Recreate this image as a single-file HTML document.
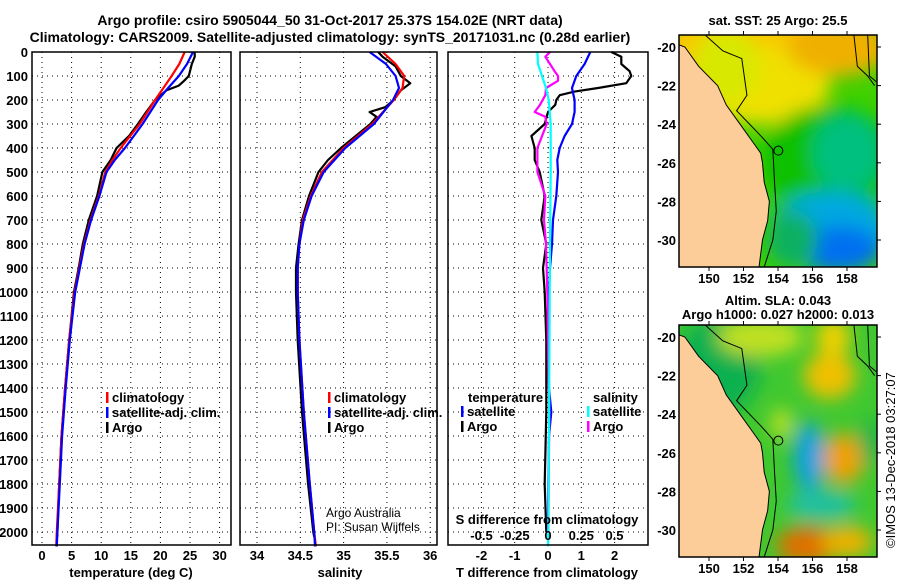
<!DOCTYPE html>
<html><head><meta charset="utf-8"><style>
body{margin:0;background:#fff;}
svg{display:block;font-family:"Liberation Sans",sans-serif;}
.b{font-weight:bold;font-size:13px;}
.t{font-weight:bold;font-size:14px;}
.g{stroke:#000;stroke-width:1;stroke-dasharray:1,4;}
</style></head><body>
<svg id="c" width="900" height="580" viewBox="0 0 900 580">
<text class="t" x="330" y="25" text-anchor="middle">Argo profile: csiro 5905044_50 31-Oct-2017 25.37S 154.02E (NRT data)</text>
<text class="t" x="330" y="42" text-anchor="middle">Climatology: CARS2009. Satellite-adjusted climatology: synTS_20171031.nc (0.28d earlier)</text>
<g id="plots"></g>
<g id="maps"></g>
</svg>
<script>
// depth grid
const depthTicks=[0,100,200,300,400,500,600,700,800,900,1000,1100,1200,1300,1400,1500,1600,1700,1800,1900,2000];
// temperature panel
const tTicks=[0,5,10,15,20,25,30];
const argoTdepth=[0,20,50,80,100,120,140,160,200,250,300,350,400,450,500,600,700,800,900,1000,1200,1400,1600,1800,2000,2020];
const argoT=[25.8,25.8,25.3,25,24.8,24,23.1,21,19.1,17.6,16.2,14.7,12.6,11.6,10.2,9.3,7.9,6.9,6.2,5.4,4.6,3.9,3.3,2.9,2.6,2.6];
const climTdepth=[0,50,100,150,200,250,300,350,400,450,500,600,700,800,900,1000,1200,1400,1600,1800,2000,2060];
const climT=[24.1,23.2,21.9,20.5,19.1,17.8,16.5,14.9,13.3,11.9,10.7,9.6,8.2,7.1,6.3,5.5,4.6,3.9,3.3,2.9,2.5,2.4];
const satT=[25.5,24.5,23.1,21.3,19.6,18.3,17,15.5,14,12.3,10.9,9.7,8.3,7.2,6.4,5.6,4.7,4,3.4,3,2.6,2.5];
// salinity panel
const sTicks=[34,34.5,35,35.5,36];
const argoSdepth=[0,20,60,100,130,160,200,230,250,270,300,350,400,450,500,600,700,800,900,1000,1200,1500,1800,2000,2020];
const argoS=[35.4,35.45,35.6,35.66,35.77,35.66,35.58,35.48,35.3,35.38,35.31,35.14,34.97,34.82,34.71,34.6,34.52,34.48,34.45,34.45,34.47,34.52,34.59,34.65,34.66];
const climSdepth=[0,50,100,150,200,300,400,500,600,700,800,900,1000,1200,1500,1800,2000,2060];
const climS=[35.45,35.6,35.7,35.68,35.58,35.33,35.0,34.75,34.62,34.53,34.49,34.47,34.47,34.49,34.54,34.61,34.66,34.68];
const satS=[35.3,35.49,35.6,35.64,35.57,35.35,35.02,34.77,34.63,34.54,34.49,34.47,34.47,34.49,34.54,34.61,34.66,34.67];
// difference panel
const dTticks=[-2,-1,0,1,2];
const dSticks=[-0.5,-0.25,0,0.25,0.5];
const dSticksLabel=["-0.5","-0.25","0","0.25","0.5"];
const argoDTdepth=[0,20,50,80,100,120,130,150,165,180,200,220,250,300,350,400,450,500,600,700,800,900,1000,1200,1500,1800,2000];
const argoDT=[1.9,2.2,2.2,2.45,2.5,2.4,2.35,1.5,0.8,0.35,0.25,0.22,0,-0.1,-0.5,-0.4,-0.4,-0.25,-0.1,-0.2,-0.05,-0.15,-0.1,-0.05,-0.05,-0.1,-0.05];
const satDTdepth=[0,50,100,150,200,250,300,350,400,450,500,600,700,800,900,1000,1200,1400,1500,1600,1800,2000];
const satDT=[1.27,1.1,0.85,0.72,0.8,0.8,0.72,0.5,0.35,0.28,0.3,0.25,0.15,0.12,0.06,0.03,0.02,0.03,0.1,0.03,0.01,0.0];
const argoDSdepth=[0,20,50,80,100,120,150,180,220,250,270,300,400,500,600,700,800,1000,1200,1500,1800,2000];
const argoDS=[0.015,-0.02,0.015,0.05,0.075,0.075,-0.015,-0.02,-0.06,-0.1,-0.02,-0.01,-0.08,-0.08,-0.02,-0.03,-0.015,-0.005,0,0.01,0.005,0.003];
const satDSdepth=[0,50,100,150,200,300,500,800,1500,2000,2060];
const satDS=[-0.08,-0.075,-0.045,-0.015,0.005,0.02,0.02,0.015,0.008,0.002,0];

const NS="http://www.w3.org/2000/svg";
function mk(tag,attrs,parent,txt){const e=document.createElementNS(NS,tag);for(const k in attrs)e.setAttribute(k,attrs[k]);if(txt!==undefined)e.textContent=txt;parent.appendChild(e);return e;}
const P=document.getElementById('plots');
const top0=52,bot=545;
const yD=d=>top0+d*0.24;

function panel(name,x0,x1,xs,ticks,labels){
  const g=mk('g',{},P);
  
  
  ticks.forEach((t,i)=>{const l=mk('line',{x1:xs(t),x2:xs(t),y1:top0,y2:bot,class:'g'},g);
    });
  depthTicks.forEach(d=>{if(d===0)return;const l=mk('line',{x1:x0,x2:x1,y1:yD(d),y2:yD(d),class:'g'},g);
    });
  if(labels){ticks.forEach((t,i)=>{const tx=mk('text',{x:xs(t),y:560,'text-anchor':'middle',class:'b'},g,labels[i]);
    });}
  return g;
}
function frame(g,x0,x1){const r=mk('rect',{x:x0,y:top0,width:x1-x0,height:bot-top0,fill:'none',stroke:'#000','stroke-width':1.5},g);
  }
function line(g,xs,vals,depths,col,name){
  const pts=vals.map((v,i)=>xs(v).toFixed(1)+','+yD(depths[i]).toFixed(1)).join(' ');
  const l=mk('polyline',{points:pts,fill:'none',stroke:col,'stroke-width':2.2,'stroke-linejoin':'round'},g);
  
}
function legend(g,x,y,items){items.forEach((it,i)=>{
  const m=mk('rect',{x:x,y:y+i*15-10,width:2.5,height:11,fill:it[1]},g);
  
  const t=mk('text',{x:x+6,y:y+i*15,class:'b'},g,it[0]);
  });}

// Panel 1
const xT=v=>42+v*5.92;
let g1=panel('temperature-panel',32,231,xT,tTicks,tTicks.map(String));
depthTicks.forEach(d=>{const t=mk('text',{x:28,y:yD(d)+5,'text-anchor':'end',class:'b'},g1,String(d));
  });
line(g1,xT,argoT,argoTdepth,'#000','argo-temperature-line');
line(g1,xT,climT,climTdepth,'#f00','climatology-temperature-line');
line(g1,xT,satT,climTdepth,'#00f','satellite-temperature-line');
frame(g1,32,231);
legend(g1,106,402,[['climatology','#f00'],['satellite-adj. clim.','#00f'],['Argo','#000']]);
mk('text',{x:131,y:577,'text-anchor':'middle',class:'b',},g1,'temperature (deg C)');

// Panel 2
const xS=v=>257+(v-34)*86.6;
let g2=panel('salinity-panel',240,437,xS,sTicks,sTicks.map(String));
line(g2,xS,argoS,argoSdepth,'#000','argo-salinity-line');
line(g2,xS,climS,climSdepth,'#f00','climatology-salinity-line');
line(g2,xS,satS,climSdepth,'#00f','satellite-salinity-line');
frame(g2,240,437);
legend(g2,328,402,[['climatology','#f00'],['satellite-adj. clim.','#00f'],['Argo','#000']]);
mk('text',{x:326,y:517,style:'font-size:12px',},g2,'Argo Australia');
mk('text',{x:326,y:531,style:'font-size:12px',},g2,'PI: Susan Wijffels');
mk('text',{x:340,y:577,'text-anchor':'middle',class:'b',},g2,'salinity');

// Panel 3
const xdT=v=>548+v*33.3;
const xdS=v=>548+v*133;
let g3=panel('difference-panel',448,648,xdT,dTticks,dTticks.map(String));
line(g3,xdT,argoDT,argoDTdepth,'#000','argo-temperature-difference-line');
line(g3,xdT,satDT,satDTdepth,'#00f','satellite-temperature-difference-line');
line(g3,xdS,argoDS,argoDSdepth,'#f0f','argo-salinity-difference-line');
line(g3,xdS,satDS,satDSdepth,'#0ff','satellite-salinity-difference-line');
frame(g3,448,648);
dSticks.forEach((t,i)=>{const tx=mk('text',{x:xdS(t),y:540,'text-anchor':'middle',class:'b'},g3,dSticksLabel[i]);
  });
mk('text',{x:547,y:524,'text-anchor':'middle',class:'b',},g3,'S difference from climatology');
mk('text',{x:468,y:402,class:'b',},g3,'temperature');
legend(g3,461,416,[['satellite','#00f'],['Argo','#000']]);
mk('text',{x:593,y:402,class:'b',},g3,'salinity');
legend(g3,587,416,[['satellite','#0ff'],['Argo','#f0f']]);
mk('text',{x:547,y:577,'text-anchor':'middle',class:'b',},g3,'T difference from climatology');

// Maps
const M=document.getElementById('maps');
const mx0=679,mx1=877;
const lonX=l=>709+(l-150)*17.25;
const lonTicks=[150,152,154,156,158];
const latTicks=[-20,-22,-24,-26,-28,-30];
const coastLon=[148.3,148.6,149.4,150.5,151,151.8,152.6,153,153.1,153.2,153.5,153.4,153.1,152.9];
const coastLat=[-19.9,-20.0,-21,-22,-23,-24,-25,-25.5,-26,-27,-28,-29,-30,-31.4];
const shelfLon=[149.8,150.8,151.9,152.2,151.6,153.0,153.7,153.8,153.9,153.7,153.2];
const shelfLat=[-19.4,-20.2,-20.6,-22.5,-23.3,-24.6,-25.3,-27,-28.5,-30,-31.4];
function map(name,y0,y1,blobs,base,title1,title2){
  const latY=l=>y0+12+(-20-l)*19.3;
  const g=mk('g',{},M);
  
  const id='clip'+y0,fid='blur'+y0;
  const defs=mk('defs',{},g);
  const cp=mk('clipPath',{id:id},defs);mk('rect',{x:mx0,y:y0,width:mx1-mx0,height:y1-y0},cp);
  const f=mk('filter',{id:fid,x:'-50%',y:'-50%',width:'200%',height:'200%'},defs);mk('feGaussianBlur',{stdDeviation:9},f);
  const inner=mk('g',{'clip-path':'url(#'+id+')'},g);
  mk('rect',{x:mx0,y:y0,width:mx1-mx0,height:y1-y0,fill:base},inner);
  const bg=mk('g',{filter:'url(#'+fid+')'},inner);
  blobs.forEach(b=>mk('ellipse',{cx:lonX(b[0]),cy:latY(b[1]),rx:b[2]*17.25,ry:b[3]*19.3,fill:b[4]},bg));
  let pts=coastLon.map((l,i)=>lonX(l)+','+latY(coastLat[i])).join(' ');
  pts+=' '+(mx0-5)+','+(y1+5)+' '+(mx0-5)+','+latY(-19.9);
  const land=mk('polygon',{points:pts,fill:'#fccc99',stroke:'#000','stroke-width':1},inner);
  
  const sp=shelfLon.map((l,i)=>lonX(l)+','+latY(shelfLat[i])).join(' ');
  mk('polyline',{points:sp,fill:'none',stroke:'#000','stroke-width':1},inner);
  mk('polyline',{points:[lonX(158.4)+','+y0,lonX(158.6)+','+latY(-21),lonX(159.2)+','+latY(-21.5),lonX(159.6)+','+latY(-22)].join(' '),fill:'none',stroke:'#000','stroke-width':1},inner);
  mk('polyline',{points:[lonX(159.2)+','+y0,lonX(159.3)+','+latY(-21.5),lonX(159.7)+','+latY(-21.8)].join(' '),fill:'none',stroke:'#000','stroke-width':1},inner);
  const c=mk('circle',{cx:lonX(154.02),cy:latY(-25.37),r:4.5,fill:'none',stroke:'#000','stroke-width':1},inner);
  
  mk('rect',{x:mx0,y:y0,width:mx1-mx0,height:y1-y0,fill:'none',stroke:'#000','stroke-width':1.5},g);
  lonTicks.forEach(l=>{mk('line',{x1:lonX(l),x2:lonX(l),y1:y1,y2:y1+4,stroke:'#000'},g);mk('line',{x1:lonX(l),x2:lonX(l),y1:y0,y2:y0-4,stroke:'#000'},g);
    const t=mk('text',{x:lonX(l),y:y1+16,'text-anchor':'middle',class:'b'},g,String(l));
    });
  latTicks.forEach(l=>{mk('line',{x1:mx1,x2:mx1+4,y1:latY(l),y2:latY(l),stroke:'#000'},g);
    const t=mk('text',{x:676,y:latY(l)+5,'text-anchor':'end',class:'b'},g,String(l));
    });
  const t1=mk('text',{x:778,y:title2?y0-20:y0-10,'text-anchor':'middle',class:'b'},g,title1);
  
  if(title2){const t2=mk('text',{x:778,y:y0-6,'text-anchor':'middle',class:'b'},g,title2);
    }
}
map('sst-map',35,267,[[153,-20,6,2.2,'#f8c800'],[153,-22,4,2,'#f0e000'],[151,-21,2,2,'#d8e800'],[157.5,-20,3,1.5,'#f0b000'],[157,-26,4,3,'#10c000'],[158,-25.5,2,2,'#00c080'],[157,-29.5,3.5,2,'#00a8e0'],[157.5,-30.5,2.5,1.2,'#0070f0'],[154.8,-30,1.5,1.5,'#10b060']],'#40d000','sat. SST: 25 Argo: 25.5');
map('sla-map',325,557,[[150.5,-21.5,2.5,2.5,'#10b050'],[153,-20,2.5,1,'#c0e020'],[157,-22,1.5,1.2,'#f0c000'],[157.2,-20,1,1,'#f0d000'],[155.8,-26.2,0.9,1.8,'#10a0e0'],[156.5,-28.7,2,0.8,'#20c0a0'],[157.8,-26.3,1.2,1.3,'#f0a000'],[155.7,-30.8,1.8,1,'#e07000'],[158,-30.6,1.5,0.8,'#f0b000'],[154.2,-24.5,0.6,0.8,'#c0e020'],[159.3,-25.5,0.6,1.2,'#10b050']],'#40c830','Altim. SLA: 0.043','Argo h1000: 0.027 h2000: 0.013');
mk('text',{x:0,y:0,transform:'translate(895,548) rotate(-90)',style:'font-size:13px',},M,'©IMOS 13-Dec-2018 03:27:07');
</script>
</body></html>
